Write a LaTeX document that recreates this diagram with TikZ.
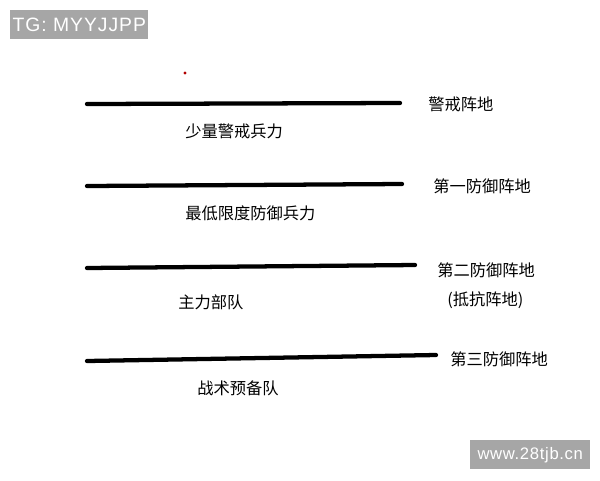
\documentclass[tikz,border=0pt]{standalone}
\usepackage{fontspec}
\setmainfont{Liberation Sans}
\newfontfamily\cjk{Noto Sans CJK SC}
\begin{document}
\begin{tikzpicture}[x=0.75pt,y=-0.75pt,
    zhen/.style={line width=3.2pt,line cap=round,black},
    lbl/.style={font=\cjk\fontsize{12.2}{14}\selectfont,inner sep=0pt},
    tag/.style={fill=black!35,text=white,inner sep=0pt,anchor=north west}]
  \useasboundingbox (0,0) rectangle (600,480);
  \fill[white] (0,0) rectangle (600,480);
  % watermark boxes
  \node[tag,minimum width=138*0.75pt,minimum height=29*0.75pt,
        font=\fontsize{14.5}{16}\selectfont\addfontfeature{LetterSpace=5}] (tg) at (10,10) {TG: MYYJJPP};
  \node[tag,minimum width=120*0.75pt,minimum height=29*0.75pt,
        font=\fontsize{12.5}{14}\selectfont\addfontfeature{LetterSpace=4}] (web) at (470,440) {www.28tjb.cn};
  \fill[red!70!black] (185,73) circle (1.3pt);
  % lines: left end, right end, name
  \foreach \y/\ya/\xb/\n in {104/103/400/a, 186/184/402/b, 268/265/415/c, 361/355/436/d} {
    \coordinate (\n l) at (87,\y);
    \coordinate (\n r) at (\xb,\ya);
    \draw[zhen] (\n l) -- (\n r);
  }
  % positions
  \node[lbl,anchor=west] (zhenA) at (428,104) {警戒阵地};
  \node[lbl,anchor=west] (zhenB) at (433,186) {第一防御阵地};
  \node[lbl,anchor=west] (zhenC) at (437,270) {第二防御阵地};
  \node[lbl,anchor=west] (zhenCc) at (447,300) {(抵抗阵地)};
  \node[lbl,anchor=west] (zhenD) at (450,359) {第三防御阵地};
  % forces
  \node[lbl,anchor=west] (bingA) at (185,131) {少量警戒兵力};
  \node[lbl,anchor=west] (bingB) at (185,213) {最低限度防御兵力};
  \node[lbl,anchor=west] (bingC) at (178,302) {主力部队};
  \node[lbl,anchor=west] (bingD) at (197,388) {战术预备队};
\end{tikzpicture}
\end{document}
